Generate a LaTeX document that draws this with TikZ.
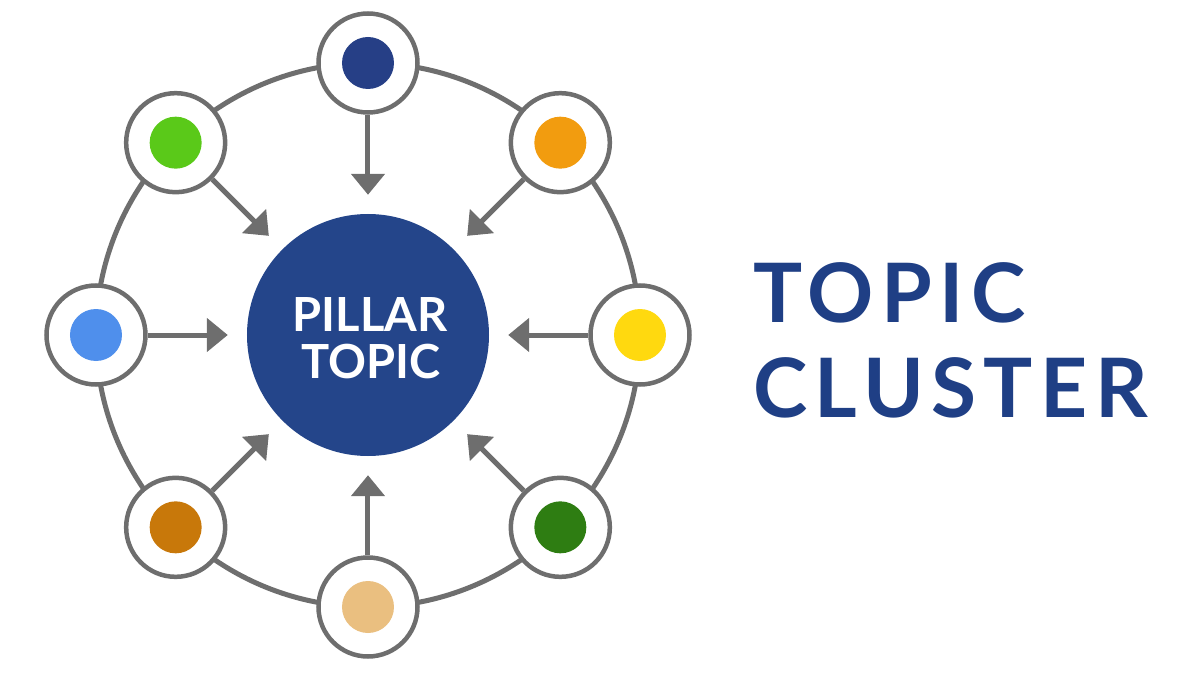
\documentclass[tikz,border=0pt]{standalone}
\usepackage{fontspec}
\setmainfont{Lato}
\usetikzlibrary{arrows.meta}

\definecolor{linegray}{HTML}{6E6E6E}
\definecolor{pillarblue}{HTML}{24458A}
\definecolor{titleblue}{HTML}{1F3F85}
\definecolor{dotnavy}{HTML}{263F86}
\definecolor{dotorange}{HTML}{F29C0F}
\definecolor{dotyellow}{HTML}{FFD90F}
\definecolor{dotgreen}{HTML}{2E7D12}
\definecolor{dottan}{HTML}{EABF80}
\definecolor{dotbrown}{HTML}{C8780A}
\definecolor{dotblue}{HTML}{4F8FEC}
\definecolor{dotlime}{HTML}{5AC919}

\begin{document}
\begin{tikzpicture}[x=1pt,y=1pt,
  ring/.style={draw=linegray,line width=5pt},
  satellite/.style={circle,draw=linegray,line width=4.5pt,fill=white,minimum size=99pt,inner sep=0pt},
  dot/.style={circle,minimum size=52pt,inner sep=0pt},
  feed/.style={color=linegray,line width=5pt,-{Triangle[length=21pt,width=33pt]},shorten >=19pt}]
\useasboundingbox (-368,-340) rectangle (832,335);
\draw[ring] (0,0) circle (272);
% satellites on the ring
\node[satellite] (N)  at (90:272)   {};
\node[satellite] (NE) at (45:272)   {};
\node[satellite] (E)  at (0:272)    {};
\node[satellite] (SE) at (-45:272)  {};
\node[satellite] (S)  at (-90:272)  {};
\node[satellite] (SW) at (-135:272) {};
\node[satellite] (W)  at (180:272)  {};
\node[satellite] (NW) at (135:272)  {};
\node[dot] (Nd)  [fill=dotnavy]   at (N)  {};
\node[dot] (NEd) [fill=dotorange] at (NE) {};
\node[dot] (Ed)  [fill=dotyellow] at (E)  {};
\node[dot] (SEd) [fill=dotgreen]  at (SE) {};
\node[dot] (Sd)  [fill=dottan]    at (S)  {};
\node[dot] (SWd) [fill=dotbrown]  at (SW) {};
\node[dot] (Wd)  [fill=dotblue]   at (W)  {};
\node[dot] (NWd) [fill=dotlime]   at (NW) {};
% pillar
\node[circle,fill=pillarblue,minimum size=242pt,inner sep=0pt] (P) at (0,0) {};
\node[text=white,font=\bfseries\fontsize{47}{49}\selectfont,anchor=base,inner sep=0pt] (P1) at (2,4) {PILLAR};
\node[text=white,font=\bfseries\fontsize{47}{49}\selectfont,anchor=base,inner sep=0pt] (P2) at (3,-43) {TOPIC};
\draw[feed] (N)  -- (P);
\draw[feed] (NE) -- (P);
\draw[feed] (E)  -- (P);
\draw[feed] (SE) -- (P);
\draw[feed] (S)  -- (P);
\draw[feed] (SW) -- (P);
\draw[feed] (W)  -- (P);
\draw[feed] (NW) -- (P);
% title
\node[text=titleblue,font=\bfseries\fontsize{82}{95}\selectfont\addfontfeature{LetterSpace=9},anchor=base west,inner sep=0pt] (T1) at (385,13) {TOPIC};
\node[text=titleblue,font=\bfseries\fontsize{82}{95}\selectfont\addfontfeature{LetterSpace=9},anchor=base west,inner sep=0pt] (T2) at (385,-82) {CLUSTER};
\end{tikzpicture}
\end{document}
